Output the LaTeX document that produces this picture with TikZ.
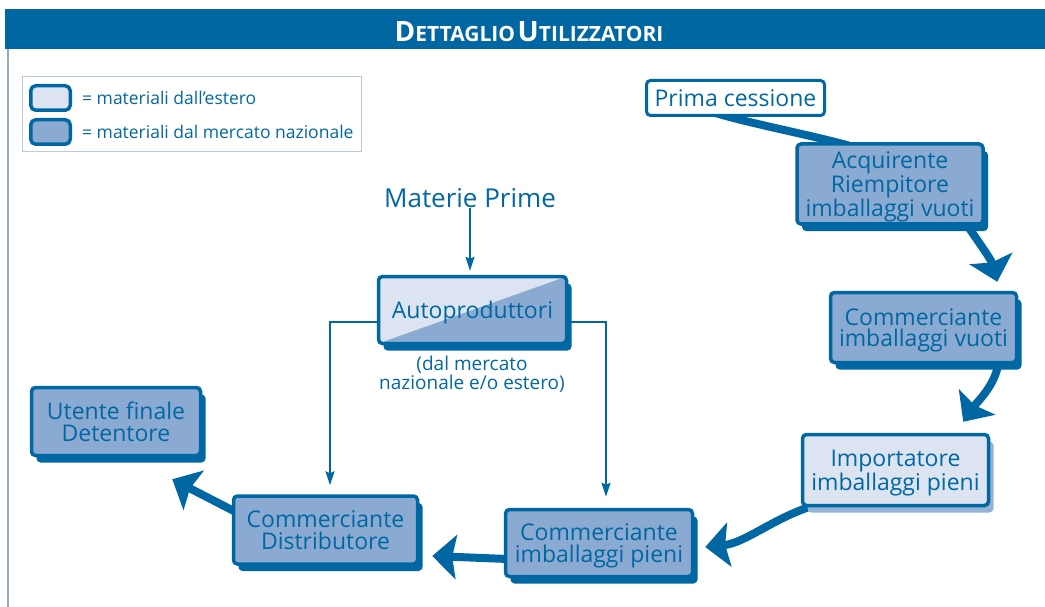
\documentclass[tikz,border=0pt]{standalone}
\usepackage{fontspec}
\setmainfont{Open Sans}
\usetikzlibrary{positioning, calc, arrows.meta, shadows, backgrounds}
\definecolor{blueD}{RGB}{0,103,163}
\definecolor{fillN}{RGB}{139,170,209}
\definecolor{fillE}{RGB}{220,228,241}
\definecolor{fillS}{RGB}{150,178,215}
\definecolor{legC}{RGB}{185,202,226}
\definecolor{frameC}{RGB}{150,170,195}

\begin{document}
\begin{tikzpicture}[x=1pt, y=-1pt,
	box/.style={draw=blueD, line width=3.5pt, rounded corners=4pt, text=blueD, align=center, inner sep=0pt, font=\fontsize{23}{21.5}\selectfont},
	nat/.style={box, fill=fillN, drop shadow={shadow xshift=5pt, shadow yshift=-7pt, fill=blueD, opacity=1}, text depth=-7pt},
	est/.style={box, fill=fillE, drop shadow={shadow xshift=5pt, shadow yshift=-7pt, fill=fillS, opacity=1}, text depth=-7pt},
	swatch/.style={draw=blueD, line width=3.5pt, rounded corners=5pt, minimum width=39.5pt, minimum height=24.5pt},
	lbl/.style={text=blueD, inner sep=0pt},
	fat/.style={draw=blueD, line width=8pt, -{Stealth[length=24pt, width=44pt, inset=4pt]}},
	thin/.style={draw=blueD, line width=1.5pt, -{Stealth[length=14pt, width=9pt, inset=2pt]}}]
	\useasboundingbox (0,0) rectangle (1045,607);

	% header
	\fill[blueD] (5,9) rectangle (1045,49);
	\draw[frameC, line width=1.2pt] (8,49) -- (8,607);
	\node[anchor=base, text=white, font=\bfseries, inner sep=0pt] (title) at (529,42)
		{{\fontsize{28}{28}\selectfont D}{\fontsize{21}{21}\selectfont ETTAGLIO} {\fontsize{28}{28}\selectfont U}{\fontsize{21}{21}\selectfont TILIZZATORI}};

	% legend
	\node[draw=legC, line width=1pt, minimum width=339pt, minimum height=75pt] (legend) at (192,114) {};
	\node[swatch, fill=fillE] (swE) at (50.5,98) {};
	\node[swatch, fill=fillN] (swN) at (50.5,132) {};
	\node[lbl, anchor=west, font=\fontsize{17.5}{17.5}\selectfont, right=10pt of swE] (txE) {= materiali dall'estero};
	\node[lbl, anchor=west, font=\fontsize{17.5}{17.5}\selectfont, right=10pt of swN] (txN) {= materiali dal mercato nazionale};

	% chain
	\node[box, fill=white, line width=3pt, minimum width=178pt, minimum height=35pt] (prima) at (735.5,98) {Prima cessione};
	\node[nat, minimum width=186pt, minimum height=80pt] (acq) at (890,184) {Acquirente\\Riempitore\\imballaggi vuoti};
	\node[nat, minimum width=186pt, minimum height=70pt] (commv) at (923.5,327.5) {Commerciante\\imballaggi vuoti};
	\node[est, minimum width=186pt, minimum height=71pt] (imp) at (895.5,470) {Importatore\\imballaggi pieni};
	\node[nat, minimum width=187pt, minimum height=67pt] (commp) at (599,543) {Commerciante\\imballaggi pieni};
	\node[nat, minimum width=184pt, minimum height=68pt] (distr) at (325.5,530) {Commerciante\\Distributore};
	\node[nat, minimum width=169pt, minimum height=68pt] (utente) at (116,421.5) {Utente finale\\Detentore};

	% autoproduttori
	\node[lbl, font=\fontsize{26}{26}\selectfont] (mp) at (470,198) {Materie Prime};
	\node[nat, fill=fillE, minimum width=188pt, minimum height=67pt,
		path picture={\fill[fillN] (path picture bounding box.south west) -- (path picture bounding box.north east) -- (path picture bounding box.south east) -- cycle;}]
		(auto) at (472.5,310) {Autoproduttori};
	\node[lbl, align=center, font=\fontsize{19}{19}\selectfont] (note) at (472,374) {(dal mercato\\nazionale e/o estero)};

	\begin{scope}[on background layer]
		\draw[thin] (mp.south) -- ($(mp.south |- auto.north)+(0,-4)$);
		\draw[thin] ($(auto.west)+(0,12)$) -| ($(distr.north)+(4.5,-9)$);
		\draw[thin] ($(auto.east)+(0,12)$) -| ($(commp.north)+(7,-11)$);

		\draw[blueD, line width=8pt] ($(prima.south)+(-20,-4)$) .. controls +(40,12) and +(-40,-12) .. ($(acq.north)+(-32,6)$);
		\draw[fat] ($(acq.south east)+(-20,-4)$) .. controls +(15,22) and +(-6,-22) .. ($(commv.north east)+(-21,-9)$);
		\draw[fat] ($(commv.south east)+(-20,-2)$) .. controls +(-2,22) and +(14,-20) .. ($(imp.north east)+(-27,-11)$);
		\draw[fat] ($(imp.south west)+(14,-2)$) .. controls +(-40,12) and +(40,-4) .. ($(commp.east)+(11,4)$);
		\draw[fat] ($(commp.west)+(4,16)$) -- ($(distr.east)+(13,26)$);
		\draw[fat] ($(distr.west)+(4,-18)$) -- ($(utente.south east)+(-30,22)$);
	\end{scope}
\end{tikzpicture}
\end{document}
